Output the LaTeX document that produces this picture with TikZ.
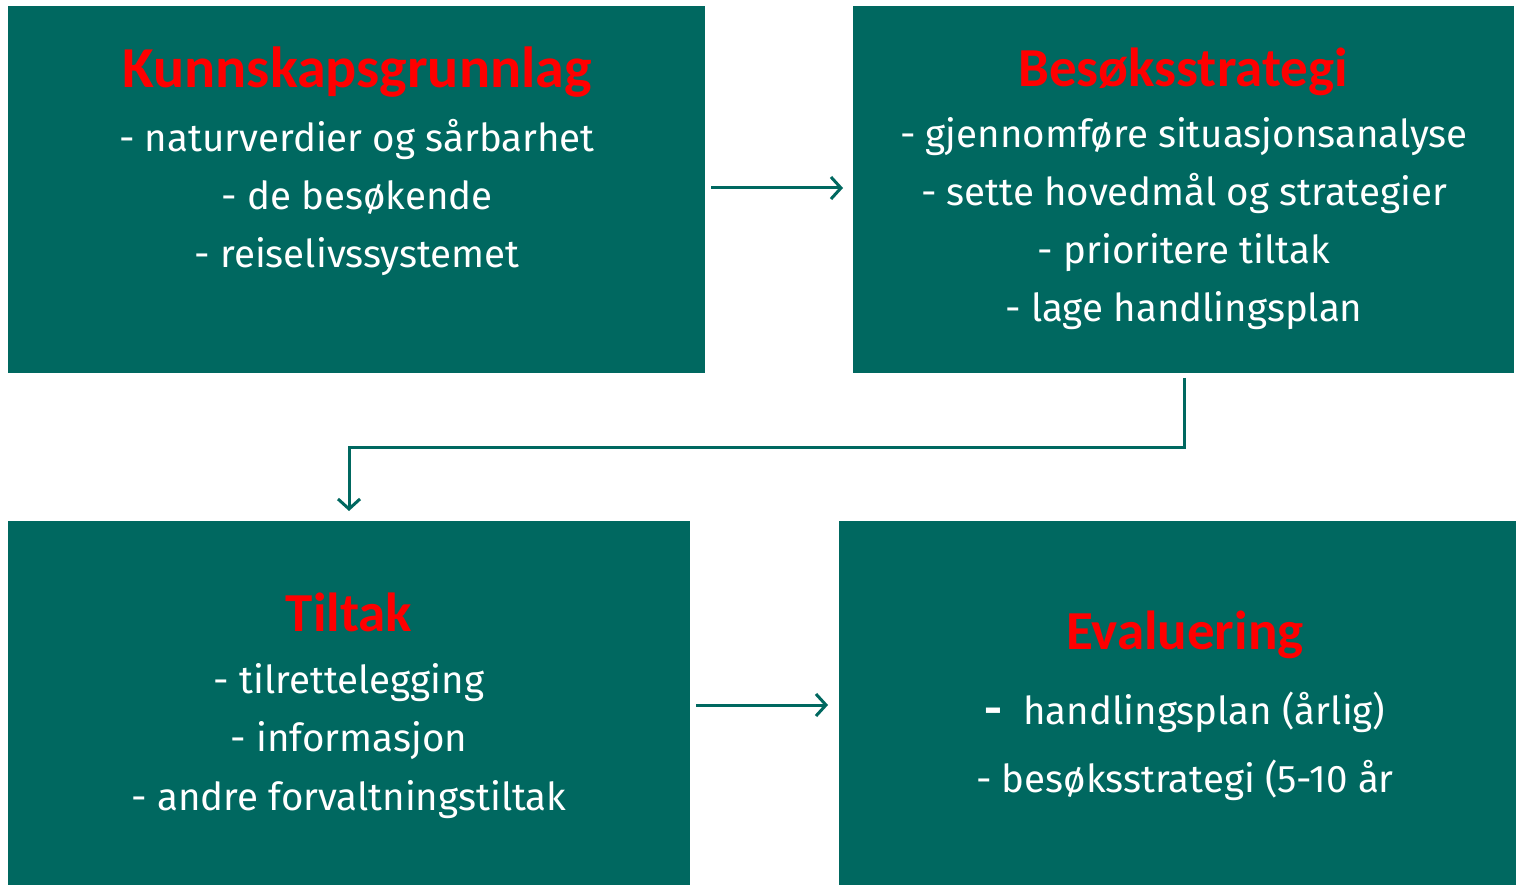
\documentclass[tikz,border=0pt]{standalone}
\usepackage{fontspec}
\setmainfont{Fira Sans}
\newfontfamily\titlefont{Carlito}
\usetikzlibrary{arrows.meta}
\definecolor{teal1}{RGB}{0,104,96}
\definecolor{titlered}{RGB}{255,0,0}
\tikzset{
  box/.style={draw=none,fill=teal1,rectangle,inner sep=0pt,anchor=north west},
  ttl/.style={text=titlered,font=\titlefont\bfseries\fontsize{55}{60}\selectfont,inner sep=0pt,anchor=base},
  body/.style={text=white,font=\fontsize{38.5}{58}\selectfont,align=center,inner sep=0pt,anchor=base},
  conn/.style={draw=teal1,line width=3pt,-{Straight Barb[length=10pt,width=22pt,line width=3pt]}}
}
\begin{document}
\begin{tikzpicture}[x=1pt,y=-1pt]
\useasboundingbox (0,0) rectangle (1516,885);
\fill[white] (0,0) rectangle (1516,885);
\node[box,minimum width=697pt,minimum height=367pt] (b1) at (8,6) {};
\node[box,minimum width=661pt,minimum height=367pt] (b2) at (853,6) {};
\node[box,minimum width=682pt,minimum height=364pt] (b3) at (8,521) {};
\node[box,minimum width=677pt,minimum height=364pt] (b4) at (839,521) {};
% titles
\node[ttl,font=\titlefont\bfseries\fontsize{58}{60}\selectfont] (t1) at (357,88) {Kunnskapsgrunnlag};
\node[ttl] (t2) at (1183,87) {Besøksstrategi};
\node[ttl] (t3) at (349,631) {Tiltak};
\node[ttl] (t4) at (1185,649) {Evaluering};
% bodies
\node[body] (l11) at (357,152) {- naturverdier og sårbarhet};
\node[body] (l12) at (357,210) {- de besøkende};
\node[body] (l13) at (357,268) {- reiselivssystemet};
\node[body] (l21) at (1184,148) {- gjennomføre situasjonsanalyse};
\node[body] (l22) at (1184,206) {- sette hovedmål og strategier};
\node[body] (l23) at (1184,264) {- prioritere tiltak};
\node[body] (l24) at (1184,322) {- lage handlingsplan};
\node[body] (l31) at (349,693) {- tilrettelegging};
\node[body] (l32) at (349,751) {- informasjon};
\node[body] (l33) at (349,810) {- andre forvaltningstiltak};
\node[body] (l41) at (1185,724) {{\bfseries\fontsize{44}{58}\selectfont -}\; handlingsplan (årlig)};
\node[body] (l42) at (1185,792) {- besøksstrategi (5-10 år};
% connectors
\coordinate (a1s) at (711,188);
\coordinate (a1e) at (843,188);
\draw[conn] (a1s) -- (a1e);
\coordinate (a2s) at (1184,378);
\coordinate (a2m1) at (1184,447);
\coordinate (a2m2) at (349,447);
\coordinate (a2e) at (349,511);
\draw[conn] (a2s) -- (a2m1) -- (a2m2) -- (a2e);
\coordinate (a3s) at (696,705);
\coordinate (a3e) at (828,705);
\draw[conn] (a3s) -- (a3e);
\end{tikzpicture}
\end{document}
